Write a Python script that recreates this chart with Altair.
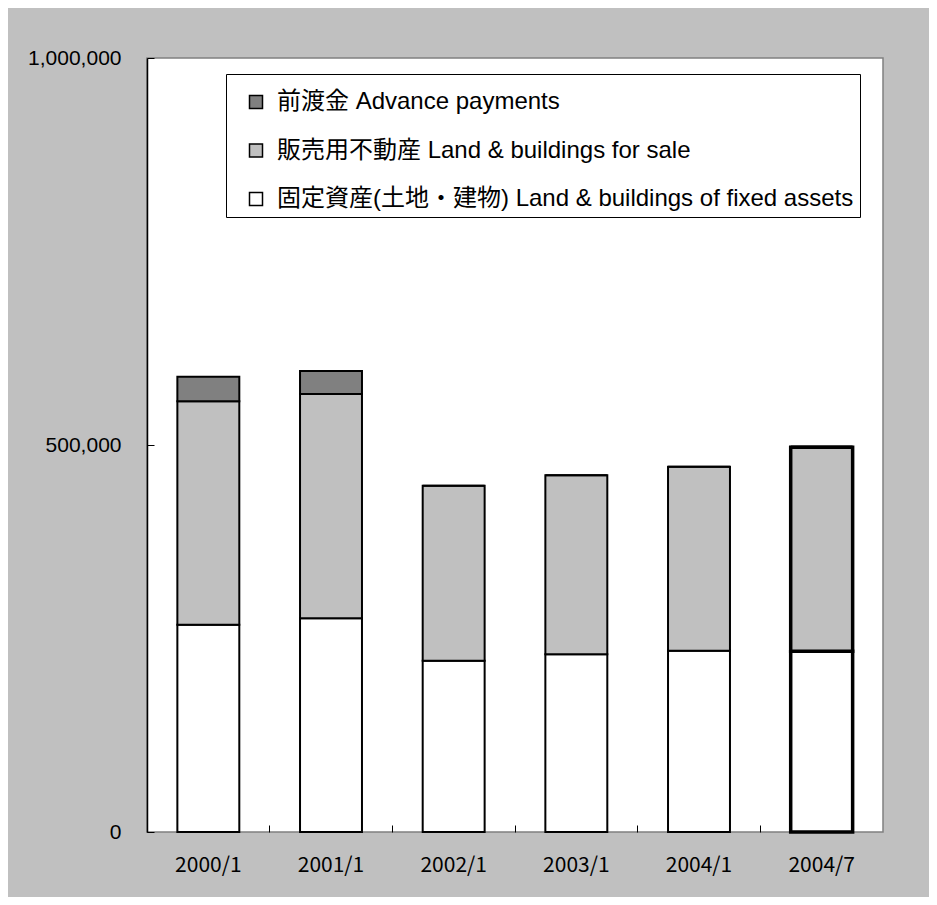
import altair as alt
import pandas as pd

periods = ["2000/1", "2001/1", "2002/1", "2003/1", "2004/1", "2004/7"]
fixed_assets = [267800, 276100, 221300, 229600, 234200, 233500]
for_sale = [288700, 289800, 226100, 231300, 237800, 263500]
advance = [31700, 29700, 0, 0, 0, 0]

series_names = [
    "前渡金 Advance payments",
    "販売用不動産 Land & buildings for sale",
    "固定資産(土地・建物) Land & buildings of fixed assets",
]
series_colors = ["#808080", "#c0c0c0", "#ffffff"]
y_ticks = [0, 500000, 1000000]

rows = []
for i, p in enumerate(periods):
    rows.append({"period": p, "series": series_names[2], "value": fixed_assets[i], "ord": 0})
    rows.append({"period": p, "series": series_names[1], "value": for_sale[i], "ord": 1})
    rows.append({"period": p, "series": series_names[0], "value": advance[i], "ord": 2})
df = pd.DataFrame(rows)

xscale = alt.Scale(domain=periods, paddingInner=0, paddingOuter=0)
yscale = alt.Scale(domain=[0, 1000000], nice=False, zero=True)

base = alt.Chart(df)

bars = base.mark_bar(stroke="black", width=alt.RelativeBandSize(0.505)).encode(
    x=alt.X("period:N", sort=periods, scale=xscale,
            axis=alt.Axis(orient="bottom", title=None, labelAngle=0, ticks=False, tickSize=0,
                          domain=False, labelPadding=22, labelFontSize=21,
                          labelFont="Noto Sans CJK JP", labelColor="black")),
    y=alt.Y("value:Q", stack="zero", scale=yscale,
            axis=alt.Axis(orient="left", title=None, values=y_ticks, format=",d", ticks=False,
                          tickSize=0, grid=False, domainColor="black", domainWidth=1.5,
                          labelPadding=26, labelFontSize=21, labelFont="Liberation Sans",
                          labelColor="black")),
    color=alt.Color("series:N", scale=alt.Scale(domain=series_names, range=series_colors),
                    legend=alt.Legend(title=" ", titleFontSize=6, titlePadding=4,
                                      orient="none", legendX=79, legendY=16,
                                      fillColor="white", strokeColor="black", padding=6,
                                      symbolType="square", symbolSize=169, symbolOffset=12,
                                      symbolStrokeColor="black", symbolStrokeWidth=1.5,
                                      labelFontSize=24, labelFont="Liberation Sans, Noto Sans CJK JP",
                                      labelColor="black", labelLimit=900, labelOffset=9,
                                      rowPadding=24.5)),
    order=alt.Order("ord:Q"),
    strokeWidth=alt.condition(alt.datum.period == "2004/7", alt.value(3.5), alt.value(2)),
)

ticks = base.mark_bar(opacity=0, width=alt.RelativeBandSize(0.505)).encode(
    x=alt.X("period:N", sort=periods, scale=xscale,
            axis=alt.Axis(orient="top", offset=-774, labels=False, domain=False, tickSize=7,
                          tickColor="black", bandPosition=0, title=None)),
    y=alt.Y("value:Q", stack="zero", scale=yscale,
            axis=alt.Axis(orient="right", offset=-736, labels=False, domain=False, tickSize=7,
                          tickColor="black", values=y_ticks, grid=False, title=None)),
    order=alt.Order("ord:Q"),
)

chart = alt.layer(bars, ticks).resolve_axis(x="independent", y="independent").properties(
    width=736, height=774,
    padding={"left": 139, "top": 50, "right": 46, "bottom": 65},
    autosize=alt.AutoSizeParams(type="none"),
    background="#c0c0c0",
).configure_view(fill="white", stroke="#808080", strokeWidth=1.5)

chart.save("out.html", embed_options={"renderer": "svg", "actions": False})
